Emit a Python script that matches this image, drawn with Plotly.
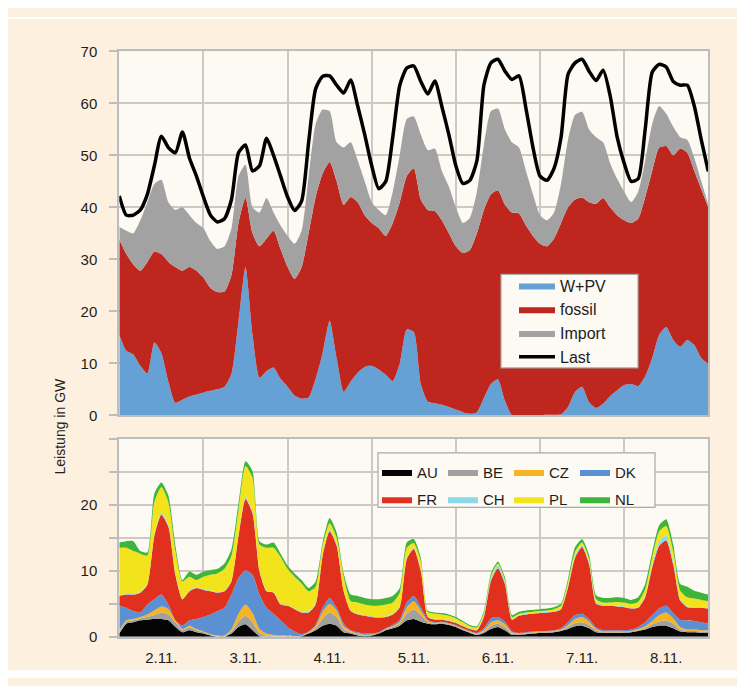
import plotly.graph_objects as go

# time axis: hours since 2.11. 00:00, 2-hour steps
hours = list(range(0, 169, 2))
day_labels = ["2.11.", "3.11.", "4.11.", "5.11.", "6.11.", "7.11.", "8.11."]
day_label_pos = [12, 36, 60, 84, 108, 132, 156]

# ---- upper chart (GW) ----
wpv = [15.5, 12.4, 11.7, 9.5, 8, 14, 12, 6.5, 2.4, 3,
       3.6, 4, 4.4, 4.7, 5, 5.5, 8, 18, 28.5, 15.5,
       7.2, 8.5, 9.2, 7, 5.5, 3.8, 3.2, 3.4, 7, 12,
       18.2, 11, 4.5, 6.5, 8.2, 9.3, 9.5, 8.8, 7.8, 6.6,
       10, 16.5, 16, 6, 2.6, 2.3, 2, 1.6, 1.1, 0.6,
       0.3, 0.6, 3.3, 6, 6.9, 2.8, 0, 0, 0, 0,
       0, 0.1, 0.1, 0.2, 1.6, 4.5, 5.5, 2.5, 1.4, 2.2,
       3.7, 4.8, 5.8, 6, 5.6, 7.5, 11, 15.5, 17, 14.5,
       13.2, 14.5, 13.5, 11, 9.9]
fossil = [18.3, 18.6, 17.3, 18.3, 21.5, 17.5, 19, 23, 26.1, 24.8,
          24.9, 23.8, 22.1, 19.8, 18.7, 18.3, 19, 19, 13.3, 19.5,
          25.3, 25.5, 26.3, 25, 23, 22.4, 25.3, 31.6, 35, 34.5,
          30.5, 34, 36, 35.5, 32.8, 29.2, 27.5, 27.2, 26.7, 30.4,
          31, 29.5, 31.5, 35.5, 36.9, 37, 35.5, 33.4, 31.4, 30.6,
          31.5, 34.4, 36.2, 36.5, 36.4, 37.7, 39, 38.8, 36.5, 34.5,
          33, 32.4, 33.9, 36.8, 38.4, 37, 36.4, 38.5, 39.3, 39.6,
          36.3, 33.7, 31.7, 31, 32.2, 34.5, 36, 36, 34.8, 35.5,
          38.1, 36, 33.5, 32.5, 30.1]
imports = [2.4, 4.5, 6, 9.7, 11.5, 13, 14.3, 11.5, 11, 12.2,
           10, 9.2, 9.5, 9, 8.3, 8.7, 9, 9, 6.4, 5,
           6.5, 7.8, 3.5, 4.5, 6, 6.8, 7, 11, 14, 12.3,
           9.8, 7.5, 11, 10.5, 8, 6.5, 4, 3.5, 4, 6,
           9, 11, 10, 12.5, 11.5, 12, 9.5, 9, 7.5, 5.8,
           6.2, 8, 12.5, 16, 15.7, 14.5, 13.5, 12.7, 10.5, 8,
           5.5, 5, 5, 7.5, 13, 16.3, 16.5, 14, 12.8, 10.7,
           8.5, 7, 5.5, 4, 5.2, 7, 9, 8, 6.2, 5.5,
           2.2, 2.5, 2.5, 1.5, 0.5]
last = [42.2, 38.5, 38.5, 39.5, 42.5, 48, 53.7, 51.5, 50.5, 54.5,
        49.5, 46, 42, 38.5, 37.2, 37.8, 41.5, 50.5, 52, 47,
        48, 53.3, 50, 46, 42, 39.4, 41.2, 52.5, 62.8, 65.2,
        65.3, 63.5, 62, 64.5, 59.5, 54, 48, 43.6, 45, 53.5,
        63.5, 66.8, 67.2, 64.2, 61.8, 64.3, 59.4, 54, 48, 44.6,
        45.2, 49, 63.5, 67.8, 68.5, 66.2, 64.6, 65.3, 59, 51.5,
        46, 45.2, 47.5, 53.5, 65.6, 67.8, 68.5, 66.2, 64.4, 66.4,
        61.5, 53.5, 48.5, 45, 45.5, 55, 66, 67.5, 67, 64.2,
        63.5, 63.5, 59.5, 53, 46.9]

# ---- lower chart: imports by country (GW) ----
au = [0.5, 2.0, 2.2, 2.5, 2.6, 2.7, 2.7, 2.5, 1.5, 0.7,
      1.0, 0.7, 0.5, 0.2, 0.0, 0.0, 0.5, 1.5, 1.9, 1.0,
      0.1, 0.0, 0.0, 0.0, 0.0, 0.0, 0.1, 0.5, 1.0, 1.7,
      2.0, 1.7, 0.7, 0.5, 0.2, 0.1, 0.2, 0.5, 1.0, 1.3,
      1.7, 2.5, 2.7, 2.3, 2.0, 1.9, 2.0, 1.8, 1.5, 1.0,
      0.6, 0.3, 0.6, 1.2, 1.5, 1.0, 0.3, 0.3, 0.4, 0.5,
      0.6, 0.6, 0.7, 0.9, 1.2, 1.6, 1.7, 1.3, 0.7, 0.6,
      0.6, 0.6, 0.6, 0.7, 0.9, 1.1, 1.5, 1.7, 1.7, 1.3,
      0.8, 0.7, 0.7, 0.6, 0.6]
be = [0.3, 0.3, 0.3, 0.3, 0.4, 0.6, 1.0, 0.9, 0.7, 0.3,
      0.4, 0.3, 0.2, 0.1, 0.1, 0.1, 0.3, 0.8, 1.3, 1.2,
      0.5, 0.2, 0.1, 0.1, 0.1, 0.1, 0.1, 0.1, 0.3, 1.1,
      1.7, 1.3, 0.5, 0.2, 0.2, 0.1, 0.1, 0.1, 0.1, 0.2,
      0.3, 1.0, 1.5, 1.0, 0.2, 0.1, 0.1, 0.1, 0.1, 0.1,
      0.1, 0.1, 0.2, 0.5, 0.5, 0.5, 0.2, 0.1, 0.1, 0.1,
      0.1, 0.1, 0.1, 0.1, 0.3, 0.5, 0.5, 0.5, 0.3, 0.1,
      0.1, 0.1, 0.1, 0.1, 0.1, 0.2, 0.4, 0.6, 0.8, 0.7,
      0.3, 0.2, 0.2, 0.2, 0.2]
cz = [0.2, 0.2, 0.2, 0.2, 0.4, 0.7, 0.9, 0.8, 0.3, 0.2,
      0.3, 0.2, 0.1, 0.1, 0.1, 0.1, 0.4, 1.2, 1.7, 1.4,
      0.6, 0.3, 0.2, 0.1, 0.1, 0.0, 0.0, 0.1, 0.3, 1.0,
      1.3, 1.0, 0.4, 0.2, 0.1, 0.1, 0.1, 0.0, 0.1, 0.1,
      0.3, 1.0, 1.2, 0.7, 0.2, 0.1, 0.1, 0.1, 0.1, 0.1,
      0.1, 0.1, 0.2, 0.5, 0.5, 0.4, 0.2, 0.1, 0.1, 0.1,
      0.1, 0.1, 0.1, 0.1, 0.3, 0.6, 0.8, 0.5, 0.2, 0.1,
      0.1, 0.1, 0.1, 0.1, 0.2, 0.3, 0.5, 1.0, 1.2, 0.8,
      0.4, 0.2, 0.2, 0.2, 0.2]
dk = [3.7, 1.9, 1.2, 0.7, 1.5, 1.7, 1.8, 0.7, 0.0, 0.5,
      0.8, 1.5, 2.2, 3.0, 3.7, 4.2, 5.2, 5.4, 5.2, 5.8,
      5.2, 3.9, 3.2, 2.3, 1.3, 0.7, 0.2, 0.1, 0.2, 0.6,
      0.9, 0.4, 0.4, 0.1, 0.2, 0.2, 0.1, 0.1, 0.1, 0.2,
      0.3, 0.7, 0.8, 0.5, 0.2, 0.1, 0.1, 0.1, 0.1, 0.1,
      0.1, 0.1, 0.3, 0.6, 0.5, 0.4, 0.1, 0.1, 0.1, 0.1,
      0.1, 0.1, 0.1, 0.2, 0.4, 0.6, 0.5, 0.4, 0.2, 0.2,
      0.2, 0.2, 0.2, 0.2, 0.3, 0.6, 0.9, 1.0, 1.0, 0.8,
      1.1, 1.4, 1.3, 1.2, 1.0]
fr = [1.5, 2.0, 2.5, 3.0, 3.0, 9.6, 12.1, 11.8, 6.9, 4.0,
      4.4, 4.7, 4.1, 3.5, 2.8, 2.5, 2.0, 6.4, 10.8, 9.3,
      3.5, 2.5, 3.2, 2.4, 3.2, 3.4, 3.3, 2.9, 3.1, 7.9,
      10.1, 9.4, 4.9, 2.9, 2.7, 2.7, 2.5, 2.2, 1.7, 1.6,
      1.9, 6.6, 7.1, 5.5, 0.4, 0.4, 0.3, 0.3, 0.3, 0.3,
      0.3, 0.4, 1.7, 5.7, 7.4, 5.7, 1.8, 2.6, 2.7, 2.7,
      2.7, 2.8, 2.8, 2.9, 5.3, 8.7, 10.1, 8.3, 3.6, 3.7,
      3.7, 3.6, 3.5, 3.2, 2.9, 3.8, 7.2, 9.5, 9.9, 7.4,
      2.9, 2.0, 2.0, 2.2, 2.3]
ch = [0.1, 0.1, 0.1, 0.1, 0.1, 0.2, 0.3, 0.3, 0.2, 0.1,
      0.1, 0.1, 0.1, 0.1, 0.1, 0.1, 0.1, 0.2, 0.3, 0.3,
      0.1, 0.1, 0.1, 0.1, 0.1, 0.1, 0.1, 0.1, 0.1, 0.2,
      0.3, 0.2, 0.1, 0.1, 0.1, 0.1, 0.1, 0.1, 0.1, 0.1,
      0.1, 0.2, 0.2, 0.2, 0.1, 0.1, 0.1, 0.1, 0.1, 0.1,
      0.1, 0.1, 0.2, 0.4, 0.5, 0.4, 0.1, 0.1, 0.1, 0.1,
      0.1, 0.1, 0.1, 0.1, 0.2, 0.3, 0.3, 0.3, 0.2, 0.1,
      0.1, 0.1, 0.1, 0.1, 0.1, 0.2, 0.4, 0.7, 0.7, 0.5,
      0.2, 0.1, 0.1, 0.1, 0.1]
pl = [7.2, 7.0, 6.5, 5.8, 4.3, 4.9, 3.9, 3.4, 3.4, 2.6,
      2.1, 1.1, 1.9, 2.4, 2.8, 3.3, 3.8, 3.7, 4.7, 5.1,
      4.0, 6.5, 6.7, 7.1, 5.5, 4.8, 4.3, 3.1, 2.6, 1.3,
      0.9, 1.0, 2.1, 1.4, 1.7, 1.6, 1.6, 1.7, 1.8, 1.7,
      2.1, 1.5, 0.7, 1.3, 0.7, 0.8, 0.7, 0.7, 0.6, 0.5,
      0.3, 0.3, 0.4, 0.3, 0.2, 0.2, 0.3, 0.2, 0.2, 0.2,
      0.2, 0.2, 0.3, 0.4, 0.6, 0.6, 0.4, 0.5, 0.5, 0.4,
      0.4, 0.6, 0.6, 0.6, 0.8, 1.0, 1.1, 1.5, 1.5, 1.5,
      1.3, 1.4, 1.3, 1.1, 1.0]
nl = [0.8, 1.0, 1.5, 0.4, 0.5, 1.3, 0.7, 1.0, 0.8, 0.2,
      0.8, 0.8, 0.8, 0.7, 0.7, 0.8, 1.0, 1.0, 0.7, 1.0,
      0.5, 0.5, 0.8, 0.5, 0.5, 0.5, 0.5, 0.5, 0.8, 0.5,
      0.8, 0.8, 0.5, 1.0, 1.0, 1.0, 1.0, 1.0, 1.0, 1.0,
      0.7, 0.8, 0.6, 0.5, 0.2, 0.2, 0.2, 0.2, 0.2, 0.2,
      0.2, 0.2, 0.3, 0.4, 0.3, 0.4, 0.3, 0.3, 0.3, 0.3,
      0.3, 0.3, 0.3, 0.3, 0.5, 0.7, 0.5, 0.6, 0.6, 0.7,
      0.7, 0.7, 0.7, 0.6, 0.7, 0.8, 0.8, 0.9, 1.0, 1.0,
      1.0, 1.6, 1.2, 1.1, 1.0]

FONT = "Liberation Sans, Arial, sans-serif"
BEIGE = "#fdf0de"
PLOTBG = "#fdf9f3"
GRID = "#cdcac6"
AXLINE = "#bdbdbd"
BOXLINE = "#a8a8a8"

# the page places the figure 8 px from the top-left corner of the window
OFF = 8
W, H = 745 - OFF, 686 - OFF


def px_x(p):
    """window pixel -> paper x"""
    return (p - OFF) / W


def px_y(p):
    """window pixel -> paper y"""
    return 1 - (p - OFF) / H


fig = go.Figure()

top_series = [("W+PV", wpv, "#66a1d6"), ("fossil", fossil, "#bf261e"), ("Import", imports, "#a2a2a2")]
for name, vals, col in top_series:
    fig.add_trace(go.Scatter(
        x=hours, y=vals, name=name, mode="lines", stackgroup="top",
        line=dict(width=0, shape="spline", smoothing=0.6, color=col),
        fillcolor=col, xaxis="x", yaxis="y", legend="legend"))
fig.add_trace(go.Scatter(
    x=hours, y=last, name="Last", mode="lines",
    line=dict(color="#000000", width=3.5, shape="spline", smoothing=0.6),
    xaxis="x", yaxis="y", legend="legend"))

bottom_series = [("AU", au, "#050505", "legend2"), ("BE", be, "#a0a0a0", "legend2"),
                 ("CZ", cz, "#f6b324", "legend2"), ("DK", dk, "#5b90d2", "legend2"),
                 ("FR", fr, "#e2301f", "legend3"), ("CH", ch, "#8ed9e9", "legend3"),
                 ("PL", pl, "#f2e31c", "legend3"), ("NL", nl, "#3db53a", "legend3")]
for name, vals, col, lg in bottom_series:
    fig.add_trace(go.Scatter(
        x=hours, y=vals, name=name, mode="lines", stackgroup="bottom",
        line=dict(width=0, shape="spline", smoothing=0.6, color=col),
        fillcolor=col, xaxis="x2", yaxis="y2", legend=lg))

xdom = [px_x(119.3), px_x(708.3)]
common_x = dict(domain=xdom, range=[0, 168], showgrid=False, zeroline=False,
                showline=True, mirror=True, linecolor=AXLINE, linewidth=2,
                minor=dict(dtick=24, tick0=0, showgrid=True, gridcolor=GRID, gridwidth=1.5))
common_y = dict(ticks="outside", ticklen=8, tickwidth=1.5, tickcolor=AXLINE,
                showgrid=True, gridcolor=GRID, gridwidth=1.5, zeroline=False,
                showline=True, mirror=True, linecolor=AXLINE, linewidth=2,
                ticklabelstandoff=9, tickfont=dict(size=15))

fig.update_layout(
    width=W, height=H,
    margin=dict(l=0, r=0, t=0, b=0),
    paper_bgcolor=BEIGE, plot_bgcolor=PLOTBG,
    font=dict(family=FONT, size=15, color="#1e1e1e"),
    xaxis=dict(**common_x, anchor="y", showticklabels=False, ticks=""),
    yaxis=dict(**common_y, domain=[px_y(416.5), px_y(43.3)], range=[0, 70], dtick=10, anchor="x"),
    xaxis2=dict(**common_x, anchor="y2", tickvals=day_label_pos, ticktext=day_labels,
                ticks="", ticklabelstandoff=6, tickfont=dict(size=15)),
    yaxis2=dict(**common_y, domain=[px_y(643.8), px_y(440.7)], range=[0, 30], tickvals=[0, 10, 20],
                anchor="x2",
                minor=dict(dtick=5, tick0=0, ticks="outside", ticklen=8, tickcolor=AXLINE,
                           showgrid=True, gridcolor=GRID, gridwidth=1.5)),
    legend=dict(x=px_x(514), y=px_y(266), xanchor="left", yanchor="top",
                bgcolor="rgba(0,0,0,0)", borderwidth=0,
                font=dict(family=FONT, size=16), tracegroupgap=0, itemwidth=36,
                traceorder="normal"),
    legend2=dict(x=px_x(377), y=px_y(458), xanchor="left", yanchor="top", orientation="h",
                 bgcolor="rgba(0,0,0,0)", borderwidth=0, font=dict(family=FONT, size=15),
                 entrywidth=21, entrywidthmode="pixels", itemwidth=30, traceorder="normal"),
    legend3=dict(x=px_x(377), y=px_y(486), xanchor="left", yanchor="top", orientation="h",
                 bgcolor="rgba(0,0,0,0)", borderwidth=0, font=dict(family=FONT, size=15),
                 entrywidth=21, entrywidthmode="pixels", itemwidth=30, traceorder="normal"),
    shapes=[
        # white frame around the beige panel
        dict(type="rect", xref="paper", yref="paper", x0=0, x1=1, y0=px_y(10), y1=1,
             fillcolor="white", line=dict(width=0), layer="below"),
        dict(type="rect", xref="paper", yref="paper", x0=0, x1=1, y0=0, y1=px_y(678),
             fillcolor="white", line=dict(width=0), layer="below"),
        dict(type="rect", xref="paper", yref="paper", x0=px_x(737), x1=1, y0=0, y1=1,
             fillcolor="white", line=dict(width=0), layer="below"),
        # legend boxes
        dict(type="rect", xref="paper", yref="paper", x0=px_x(501), x1=px_x(638),
             y0=px_y(368), y1=px_y(272), fillcolor=PLOTBG,
             line=dict(color=BOXLINE, width=1.2), layer="above"),
        dict(type="rect", xref="paper", yref="paper", x0=px_x(378), x1=px_x(655),
             y0=px_y(511), y1=px_y(455), fillcolor=PLOTBG,
             line=dict(color=BOXLINE, width=1.2), layer="above"),
    ],
    annotations=[
        dict(text="Leistung in GW", x=px_x(60), y=px_y(428), xref="paper", yref="paper",
             textangle=-90, showarrow=False, font=dict(family=FONT, size=14),
             xanchor="center", yanchor="middle"),
    ],
)

fig.write_html("out.html")
